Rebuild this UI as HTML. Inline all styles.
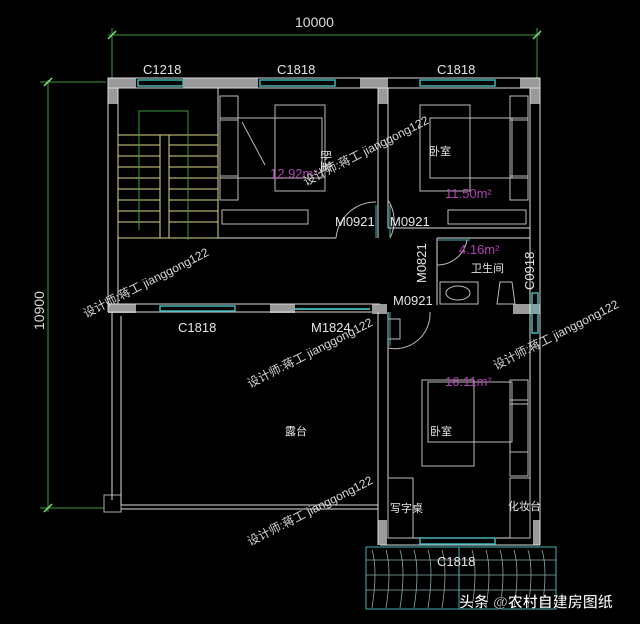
<!DOCTYPE html>
<html><head><meta charset="utf-8"><style>
html,body{margin:0;padding:0;background:#000;width:640px;height:624px;overflow:hidden}
svg text{font-family:"Liberation Sans","Noto Sans CJK SC",sans-serif}
</style></head><body>
<svg width="640" height="624" viewBox="0 0 640 624" xmlns="http://www.w3.org/2000/svg">
<rect width="640" height="624" fill="#000"/>
<!-- dimensions -->
<g stroke="#3c9c3c" stroke-width="1" fill="none">
<line x1="108" y1="35" x2="540" y2="35"/>
<line x1="112" y1="28" x2="112" y2="78"/><line x1="537" y1="28" x2="537" y2="78"/>
<line x1="48" y1="80" x2="48" y2="512"/>
<line x1="40" y1="82" x2="106" y2="82"/><line x1="40" y1="508" x2="104" y2="508"/>
</g>
<g stroke="#7fe07f" stroke-width="1.5"><line x1="108" y1="39" x2="116" y2="31"/><line x1="533" y1="39" x2="541" y2="31"/><line x1="44" y1="86" x2="52" y2="78"/><line x1="44" y1="512" x2="52" y2="504"/></g>
<text x="295" y="27" fill="#ddd" font-size="14">10000</text>
<text x="0" y="0" fill="#ddd" font-size="14" transform="translate(44,330) rotate(-90)">10900</text>
<!-- walls grey blocks -->
<g fill="#9a9a9a">
<rect x="108" y="78" width="28" height="10"/><rect x="183" y="78" width="75" height="10"/>
<rect x="360" y="78" width="28" height="10"/><rect x="520" y="78" width="20" height="10"/>
<rect x="108" y="78" width="10" height="26"/><rect x="530" y="78" width="10" height="26"/>
<rect x="378" y="78" width="10" height="26"/>
<rect x="108" y="304" width="28" height="9"/><rect x="270" y="304" width="25" height="9"/>
<rect x="372" y="304" width="15" height="10"/><rect x="513" y="304" width="27" height="10"/>
<rect x="378" y="520" width="9" height="25"/><rect x="533" y="520" width="7" height="25"/>
<rect x="104" y="495" width="17" height="17" fill="none" stroke="#aaa"/>
</g>
<g stroke="#ddd" stroke-width="1" fill="none">
<rect x="108" y="78" width="432" height="10"/>
<line x1="108" y1="78" x2="108" y2="312"/><line x1="118" y1="88" x2="118" y2="304"/>
<line x1="540" y1="78" x2="540" y2="545"/><line x1="530" y1="88" x2="530" y2="538"/>
<line x1="108" y1="304" x2="380" y2="304"/><line x1="108" y1="312" x2="372" y2="312"/>
<line x1="218" y1="88" x2="218" y2="238"/><line x1="218" y1="238" x2="336" y2="238"/>
<line x1="378" y1="88" x2="378" y2="238"/><line x1="388" y1="88" x2="388" y2="228"/>
<line x1="388" y1="228" x2="430" y2="228"/><line x1="430" y1="228" x2="530" y2="228"/>
<line x1="437" y1="238" x2="530" y2="238"/><line x1="437" y1="238" x2="437" y2="305"/>
<line x1="378" y1="312" x2="378" y2="545"/><line x1="388" y1="312" x2="388" y2="538"/>
<line x1="380" y1="545" x2="540" y2="545"/><line x1="388" y1="538" x2="530" y2="538"/>
<line x1="112" y1="312" x2="112" y2="500"/><line x1="121" y1="316" x2="121" y2="505"/>
<line x1="121" y1="505" x2="378" y2="505"/><line x1="121" y1="509" x2="378" y2="509"/>
</g>
<!-- windows teal -->
<g stroke="#3fb4b4" stroke-width="1.5" fill="none">
<rect x="138" y="80" width="45" height="6"/><rect x="260" y="80" width="75" height="6"/>
<rect x="420" y="80" width="75" height="6"/><rect x="160" y="306" width="75" height="5"/>
<line x1="295" y1="309" x2="370" y2="309" stroke="#4ee0e0"/>
<rect x="532" y="293" width="6" height="40"/><rect x="420" y="538" width="75" height="6"/>
</g>
<!-- balcony -->
<rect x="366" y="547" width="190" height="62" fill="none" stroke="#3fb4b4"/>
<line x1="459" y1="547" x2="459" y2="609" stroke="#3fb4b4"/>
<g stroke="#8aa" stroke-width="0.8" fill="none">
<line x1="366" y1="560" x2="556" y2="560"/><line x1="366" y1="575" x2="556" y2="575"/><line x1="366" y1="590" x2="556" y2="590"/>
<path d="M372 550 q6 20 0 58 M386 550 q6 20 0 58 M400 550 q6 20 0 58 M414 550 q6 20 0 58 M428 550 q6 20 0 58 M442 550 q6 20 0 58 M472 550 q6 20 0 58 M486 550 q6 20 0 58 M500 550 q6 20 0 58 M514 550 q6 20 0 58 M528 550 q6 20 0 58 M542 550 q6 20 0 58"/>
</g>
<!-- stairs -->
<g stroke="#d8d880" stroke-width="1" fill="none">
<rect x="118" y="135" width="100" height="103"/>
<line x1="118" y1="145" x2="218" y2="145"/><line x1="118" y1="156" x2="218" y2="156"/><line x1="118" y1="167" x2="218" y2="167"/><line x1="118" y1="178" x2="218" y2="178"/><line x1="118" y1="189" x2="218" y2="189"/><line x1="118" y1="200" x2="218" y2="200"/><line x1="118" y1="211" x2="218" y2="211"/><line x1="118" y1="222" x2="218" y2="222"/>
<rect x="160" y="135" width="9" height="103" fill="#000"/>
</g>
<g stroke="#3c9c3c" fill="none"><polyline points="139,230 139,111 188,111 188,240"/></g>
<!-- furniture beds -->
<g stroke="#bbb" stroke-width="1" fill="none">
<rect x="220" y="96" width="18" height="24"/><rect x="220" y="118" width="18" height="60"/><rect x="220" y="176" width="18" height="24"/>
<rect x="238" y="118" width="84" height="60"/><line x1="242" y1="122" x2="265" y2="165"/>
<rect x="275" y="105" width="50" height="86"/><rect x="222" y="210" width="86" height="14"/>
<rect x="510" y="96" width="18" height="24"/><rect x="510" y="118" width="18" height="60"/><rect x="510" y="176" width="18" height="24"/>
<rect x="430" y="118" width="82" height="60"/><rect x="420" y="105" width="50" height="86"/><rect x="448" y="210" width="78" height="14"/>
<rect x="510" y="380" width="18" height="24"/><rect x="510" y="400" width="18" height="52"/><rect x="510" y="452" width="18" height="24"/>
<rect x="428" y="382" width="84" height="60"/><rect x="422" y="380" width="52" height="86"/>
<rect x="388" y="478" width="25" height="60"/><rect x="510" y="478" width="20" height="60"/>
<rect x="440" y="282" width="38" height="22"/><ellipse cx="458" cy="293" rx="12" ry="7"/><path d="M500 282 h12 l3 22 h-18z"/>
<rect x="388" y="319" width="12" height="20"/>
</g>
<g stroke="#bbb" fill="none" stroke-width="1">
<path d="M336 238 a40 40 0 0 1 40 -36"/><path d="M390 238 a38 38 0 0 0 -2 -38"/>
<path d="M437 265 a30 30 0 0 0 30 -25"/><path d="M388 348 a35 35 0 0 0 42 -36"/>
</g>
<g stroke="#3fb4b4"><line x1="376" y1="205" x2="376" y2="238"/><line x1="390" y1="205" x2="390" y2="238"/><line x1="438" y1="240" x2="470" y2="240"/><line x1="390" y1="312" x2="390" y2="346"/></g>
<!-- labels -->
<g fill="#e6e6e6" font-size="13">
<text x="143" y="74">C1218</text><text x="277" y="74">C1818</text><text x="437" y="74">C1818</text>
<text x="178" y="332">C1818</text><text x="311" y="332">M1824</text>
<text x="335" y="226">M0921</text><text x="390" y="226">M0921</text><text x="393" y="305">M0921</text>
<text x="437" y="566">C1818</text>
<text transform="translate(426,283) rotate(-90)">M0821</text>
<text transform="translate(534,290) rotate(-90)">C0918</text>
</g>
<g fill="#e6e6e6" font-size="11">
<text x="285" y="435">露台</text><text x="471" y="272">卫生间</text>
<text x="390" y="512">写字桌</text><text x="508" y="510">化妆台</text>
<text transform="translate(322,150) rotate(90)">卧室</text><text x="429" y="155">卧室</text><text x="430" y="435">卧室</text>
</g>
<g fill="#b040b0" font-size="13"><text x="270" y="178">12.92m²</text><text x="445" y="198">11.50m²</text><text x="459" y="254">4.16m²</text><text x="445" y="386">16.11m²</text></g>
<!-- watermarks -->
<g fill="#d8d8d8" font-size="12">
<text transform="translate(306,186) rotate(-27)">设计师:蒋工 jianggong122</text>
<text transform="translate(86,318) rotate(-27)">设计师:蒋工 jianggong122</text>
<text transform="translate(250,388) rotate(-27)">设计师:蒋工 jianggong122</text>
<text transform="translate(250,546) rotate(-27)">设计师:蒋工 jianggong122</text>
<text transform="translate(496,370) rotate(-27)">设计师:蒋工 jianggong122</text>
</g>
<text x="459" y="607" fill="#fff" font-size="15" font-weight="bold" stroke="#000" stroke-width="0.5">头条 @农村自建房图纸</text>
</svg>
</body></html>
